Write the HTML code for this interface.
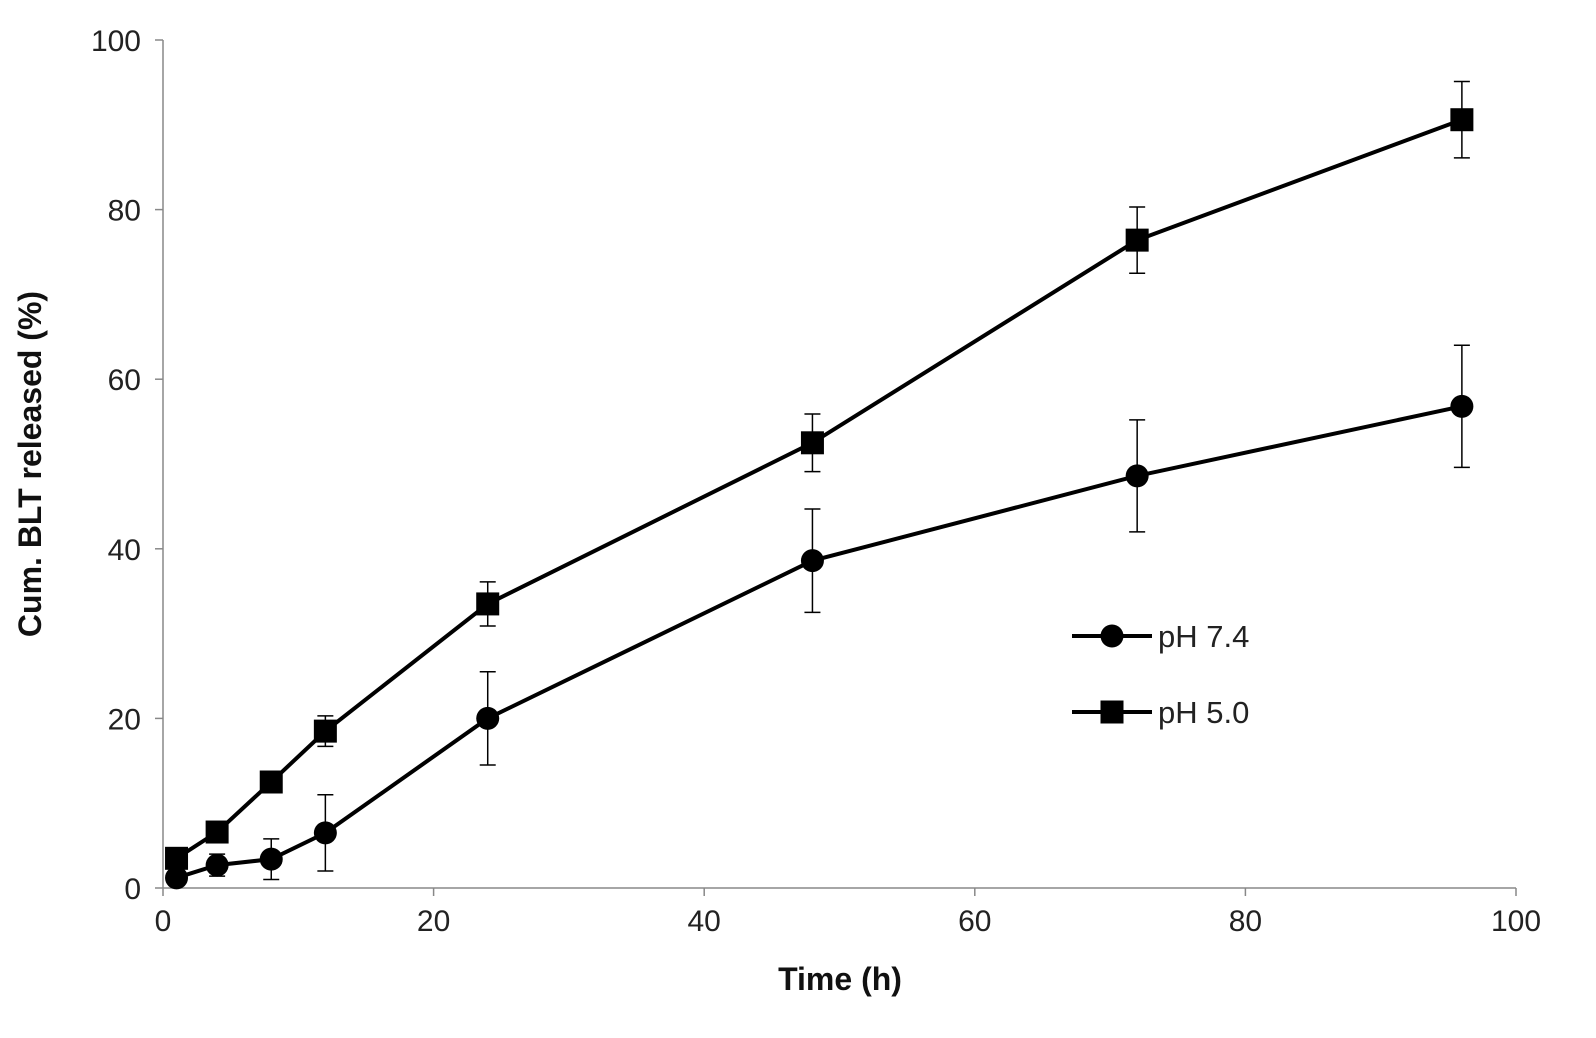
<!DOCTYPE html>
<html><head><meta charset="utf-8"><style>
html,body{margin:0;padding:0;background:#fff;}
svg{display:block;font-family:"Liberation Sans",sans-serif;}
</style></head><body>
<svg id="chart" width="1596" height="1038" viewBox="0 0 1596 1038"></svg>
<script>
const times=[1,4,8,12,24,48,72,96];
const ph74=[1.2,2.7,3.4,6.5,20,38.6,48.6,56.8];
const ph74Err=[0.8,1.3,2.4,4.5,5.5,6.1,6.6,7.2];
const ph50=[3.5,6.6,12.5,18.5,33.5,52.5,76.4,90.6];
const ph50Err=[0.6,0.8,0.8,1.8,2.6,3.4,3.9,4.5];
const xTicks=[0,20,40,60,80,100];
const yTicks=[0,20,40,60,80,100];

const NS="http://www.w3.org/2000/svg";
const svg=document.getElementById('chart');
const X0=163,X1=1516,Y0=888,Y1=40;
const sx=v=>X0+(X1-X0)*v/100;
const sy=v=>Y0-(Y0-Y1)*v/100;
function mk(tag,attrs,parent){const e=document.createElementNS(NS,tag);for(const k in attrs)e.setAttribute(k,attrs[k]);(parent||svg).appendChild(e);return e;}

let ax=mk('line',{x1:X0,y1:Y0,x2:X1,y2:Y0,stroke:'#888','stroke-width':1.5});


let ay=mk('line',{x1:X0,y1:Y0,x2:X0,y2:Y1,stroke:'#888','stroke-width':1.5});



xTicks.forEach(t=>{
  mk('line',{x1:sx(t),y1:Y0,x2:sx(t),y2:Y0+8,stroke:'#888','stroke-width':1.5});
  let tx=mk('text',{x:sx(t),y:Y0+43,'text-anchor':'middle','font-size':30,fill:'#222'});
  tx.textContent=t;
  
  
});
yTicks.forEach(t=>{
  mk('line',{x1:X0-8,y1:sy(t),x2:X0,y2:sy(t),stroke:'#888','stroke-width':1.5});
  let tx=mk('text',{x:X0-22,y:sy(t)+11,'text-anchor':'end','font-size':30,fill:'#222'});
  tx.textContent=t;
  
  
});
let xt=mk('text',{x:840,y:990,'text-anchor':'middle','font-size':32,'font-weight':'bold',fill:'#111'});
xt.textContent='Time (h)';


let yt=mk('text',{x:0,y:0,'text-anchor':'middle','font-size':32,'font-weight':'bold',fill:'#111',transform:'translate(41,464) rotate(-90)'});
yt.textContent='Cum. BLT released (%)';



function series(vals,errs,shape,name){
  const g=mk('g',{});
  
  
  vals.forEach((v,i)=>{
    const x=sx(times[i]),yt=sy(v+errs[i]),yb=sy(v-errs[i]);
    mk('line',{x1:x,y1:yt,x2:x,y2:yb,stroke:'#000','stroke-width':1.5},g);
    mk('line',{x1:x-8,y1:yt,x2:x+8,y2:yt,stroke:'#000','stroke-width':1.5},g);
    mk('line',{x1:x-8,y1:yb,x2:x+8,y2:yb,stroke:'#000','stroke-width':1.5},g);
  });
  mk('polyline',{points:vals.map((v,i)=>sx(times[i])+','+sy(v)).join(' '),fill:'none',stroke:'#000','stroke-width':4},g);
  vals.forEach((v,i)=>{
    let m;
    if(shape==='circle')m=mk('circle',{cx:sx(times[i]),cy:sy(v),r:11.5,fill:'#000'},g);
    else m=mk('rect',{x:sx(times[i])-11.5,y:sy(v)-11.5,width:23,height:23,fill:'#000'},g);
    
    
  });
}
series(ph74,ph74Err,'circle','series-ph-7-4');
series(ph50,ph50Err,'square','series-ph-5-0');

function legend(y,shape,label,name){
  const g=mk('g',{});
  
  
  mk('line',{x1:1072,y1:y,x2:1152,y2:y,stroke:'#000','stroke-width':4},g);
  if(shape==='circle')mk('circle',{cx:1112,cy:y,r:11.5,fill:'#000'},g);
  else mk('rect',{x:1100.5,y:y-11.5,width:23,height:23,fill:'#000'},g);
  const t=mk('text',{x:1158,y:y+11,'font-size':31,fill:'#222'},g);
  t.textContent=label;
}
legend(636,'circle','pH 7.4','legend-entry-ph-7-4');
legend(712,'square','pH 5.0','legend-entry-ph-5-0');
</script>
</body></html>
